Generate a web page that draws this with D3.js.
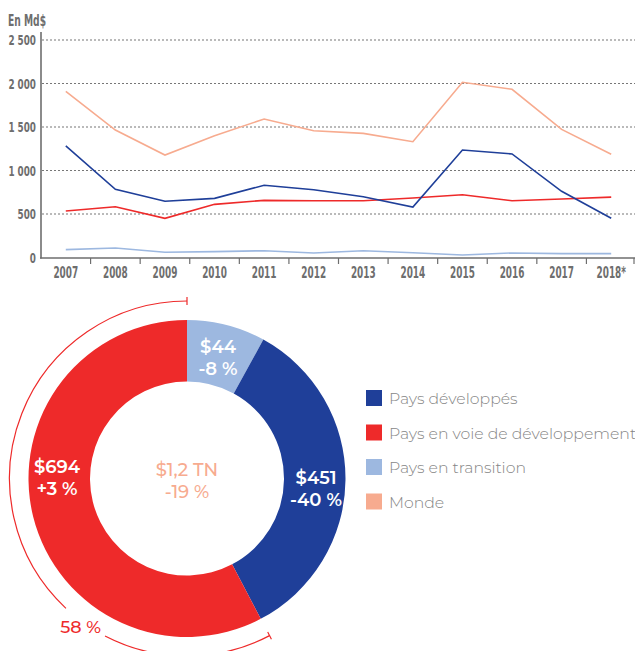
<!DOCTYPE html>
<html><head><meta charset="utf-8">
<script src="https://cdn.jsdelivr.net/npm/d3@7"></script>
<style>
body{margin:0;background:#fff;}
svg{display:block;}
.cond{font-family:"Liberation Sans Narrow","DejaVu Sans Condensed","Roboto",sans-serif;font-weight:bold;fill:#6e6e6e;}
</style></head>
<body>
<svg id="c" width="635" height="651"></svg>
<script>
const years = ["2007","2008","2009","2010","2011","2012","2013","2014","2015","2016","2017","2018*"];
const monde =      [1910,1465,1178,1400,1592,1457,1427,1331,2014,1933,1473,1186];
const developpes = [1282, 784, 646, 680, 830, 779, 699, 580,1236,1190, 761, 451];
const enDev =      [ 534, 584, 450, 611, 657, 653, 653, 684, 722, 653, 672, 694];
const transition = [  90, 109,  60,  67,  78,  52,  78,  55,  29,  52,  44,  44];
const yTicks = [0,500,1000,1500,2000,2500];
const yTickLabels = ["0","500","1 000","1 500","2 000","2 500"];

const seriesNames = ["Pays développés","Pays en voie de développement","Pays en transition","Monde"];
const seriesColors = ["#1f3f99","#ee2a2a","#9db8e0","#f7ab8f"];

// donut
const sliceNames = ["Pays en transition","Pays développés","Pays en voie de développement"];
const sliceShares = [8, 34.3, 57.7];
const sliceValueLabels = ["$44","$451","$694"];
const sliceChangeLabels = ["-8 %","-40 %","+3 %"];
const sliceColors = ["#9db8e0","#1f3f99","#ee2a2a"];
const totalLabel = "$1,2 TN";
const totalChange = "-19 %";
const bracketLabel = "58 %";

const svg = d3.select("#c");
const SX = 0.7;

// ---- line chart ----
const x = d3.scaleBand().domain(years).range([41,636]);
const y = d3.scaleLinear().domain([0,2500]).range([257.5,40]);

function condText(sel, fs){
  return sel.attr("class","cond").attr("font-size",fs);
}

condText(svg.append("text"),15).attr("transform","translate(8,26) scale(0.68,1)").text("En Md$");

svg.append("g").selectAll("line").data(yTicks.filter(d=>d>0)).join("line")
  .attr("x1",42).attr("x2",635).attr("y1",d=>y(d)).attr("y2",d=>y(d))
  .attr("stroke","#777").attr("stroke-width",1.2).attr("stroke-dasharray","2,2");

condText(svg.append("g").selectAll("text").data(yTicks).join("text"),14)
  .attr("transform",d=>`translate(36,${y(d)+5}) scale(${SX},1)`).attr("text-anchor","end")
  .text((d,i)=>yTickLabels[i]);

// axis lines
svg.append("line").attr("x1",41).attr("x2",41).attr("y1",32).attr("y2",258.5).attr("stroke","#6e6e6e").attr("stroke-width",1.6);
svg.append("line").attr("x1",40).attr("x2",635).attr("y1",258).attr("y2",258).attr("stroke","#6e6e6e").attr("stroke-width",1.6);
svg.append("g").selectAll("line").data(years.slice(1)).join("line")
  .attr("x1",d=>x(d)).attr("x2",d=>x(d)).attr("y1",258).attr("y2",264)
  .attr("stroke","#6e6e6e").attr("stroke-width",1.2);
svg.append("line").attr("x1",634).attr("x2",634).attr("y1",258).attr("y2",264).attr("stroke","#6e6e6e").attr("stroke-width",1.2);

condText(svg.append("g").selectAll("text").data(years).join("text"),15)
  .attr("transform",d=>`translate(${x(d)+x.bandwidth()/2},277.5) scale(0.66,1)`)
  .attr("text-anchor","middle").text(d=>d);

const line = d3.line().x((d,i)=>x(years[i])+x.bandwidth()/2).y(d=>y(d));
[[monde,3],[transition,2],[enDev,1],[developpes,0]].forEach(([s,ci])=>{
  svg.append("path").attr("d",line(s)).attr("fill","none")
    .attr("stroke",seriesColors[ci]).attr("stroke-width",1.6).attr("stroke-linejoin","miter");
});

// ---- donut ----
const cx=187, cy=478.5;
const g = svg.append("g").attr("transform",`translate(${cx},${cy})`);
const pie = d3.pie().sort(null).value(d=>d);
const arcs = pie(sliceShares);
const arc = d3.arc().innerRadius(97).outerRadius(158.5);
g.selectAll("path").data(arcs).join("path").attr("d",arc).attr("fill",(d,i)=>sliceColors[i]);

const labelPos = [[31,-126],[129,5],[-130,-6]];
const font = '"Montserrat","Open Sans","Noto Sans",sans-serif';
g.selectAll("text.v").data(arcs).join("text").attr("class","v")
  .attr("x",(d,i)=>labelPos[i][0]).attr("y",(d,i)=>labelPos[i][1])
  .attr("text-anchor","middle").attr("font-family",font).attr("font-size",18)
  .attr("font-weight",600).attr("fill","#fff").text((d,i)=>sliceValueLabels[i]);
g.selectAll("text.p").data(arcs).join("text").attr("class","p")
  .attr("x",(d,i)=>labelPos[i][0]).attr("y",(d,i)=>labelPos[i][1]+22)
  .attr("text-anchor","middle").attr("font-family",font).attr("font-size",18)
  .attr("font-weight",600).attr("fill","#fff").text((d,i)=>sliceChangeLabels[i]);

g.append("text").attr("x",0).attr("y",-3).attr("text-anchor","middle").attr("font-family",font)
  .attr("font-size",18).attr("font-weight",500).attr("fill","#f7ab8f").text(totalLabel);
g.append("text").attr("x",0).attr("y",19).attr("text-anchor","middle").attr("font-family",font)
  .attr("font-size",18).attr("font-weight",500).attr("fill","#f7ab8f").text(totalChange);

// bracket around red slice
const red = arcs[2];
const rB = 177.5;
const gapStart = 207.5*Math.PI/180, gapEnd = 223*Math.PI/180;
const bArc = d3.arc().innerRadius(rB).outerRadius(rB);
g.append("path").attr("d",bArc({startAngle:red.startAngle,endAngle:gapStart}))
  .attr("fill","none").attr("stroke","#ee2a2a").attr("stroke-width",1.2);
g.append("path").attr("d",bArc({startAngle:gapEnd,endAngle:red.endAngle}))
  .attr("fill","none").attr("stroke","#ee2a2a").attr("stroke-width",1.2);
[red.startAngle, red.endAngle].forEach(a=>{
  const s=Math.sin(a), c=-Math.cos(a);
  g.append("line").attr("x1",s*(rB-4)).attr("y1",c*(rB-4)).attr("x2",s*(rB+4)).attr("y2",c*(rB+4))
    .attr("stroke","#ee2a2a").attr("stroke-width",1.2);
});
const la = 216*Math.PI/180;
g.append("text").attr("x",Math.sin(la)*rB-2).attr("y",-Math.cos(la)*rB+11)
  .attr("text-anchor","middle").attr("font-family",font).attr("font-size",17.5).attr("font-weight",500)
  .attr("fill","#ee2a2a").text(bracketLabel);

// legend
const lg = svg.append("g").attr("transform","translate(366,390)");
seriesNames.forEach((n,i)=>{
  const row = lg.append("g").attr("transform",`translate(0,${i*34.5})`);
  row.append("rect").attr("width",16).attr("height",16).attr("fill",seriesColors[i]);
  row.append("text").attr("x",23).attr("y",14).attr("font-family",font).attr("font-size",15.7)
    .attr("font-weight",300).attr("fill","#858585").text(n);
});
</script>
</body></html>
